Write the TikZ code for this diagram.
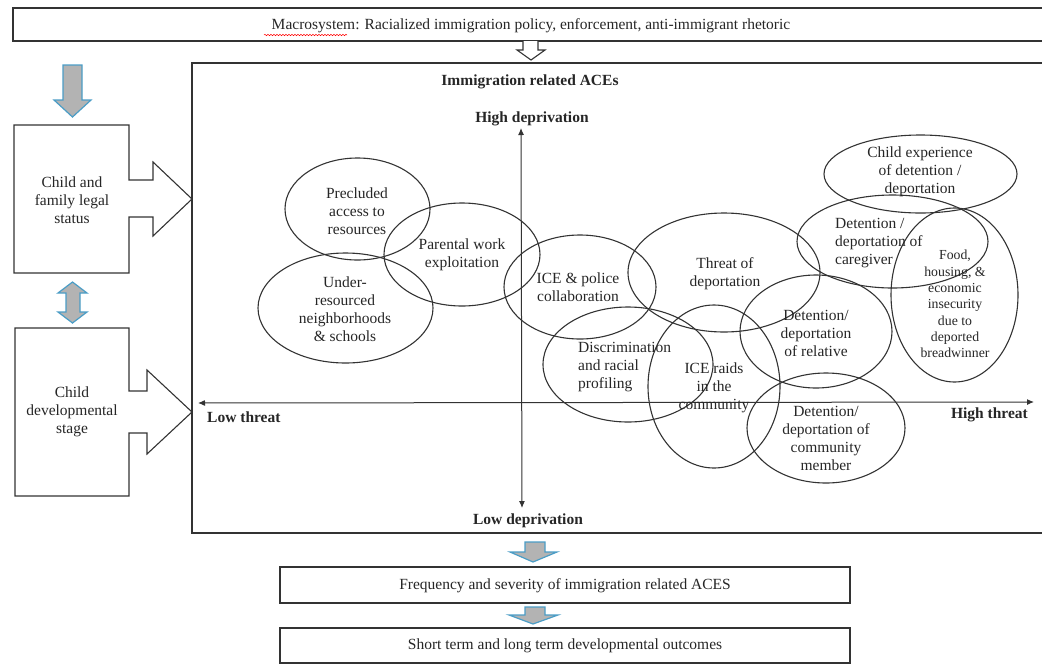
\documentclass[tikz,border=0pt]{standalone}
\usepackage{fontspec}
\setmainfont{Liberation Serif}
\usetikzlibrary{arrows.meta,decorations.pathmorphing}
\definecolor{linec}{HTML}{333333}
\definecolor{textc}{HTML}{262626}
\definecolor{arrowfill}{HTML}{B3B3B3}
\definecolor{arrowline}{HTML}{4B9DC6}
\begin{document}
\begin{tikzpicture}[x=1pt,y=-1pt,
  line/.style={draw=linec,line width=1.1pt},
  ell/.style={draw=linec,line width=1.1pt},
  txt/.style={text=textc,font=\fontsize{15.5}{18}\selectfont,align=center,inner sep=0pt},
  btxt/.style={text=textc,font=\fontsize{15.5}{18}\selectfont\bfseries,align=center,inner sep=0pt},
  ltxt/.style={txt,align=left,anchor=west},
  stxt/.style={text=textc,font=\fontsize{13.8}{16.3}\selectfont,align=center,inner sep=0pt},
  garrow/.style={fill=arrowfill,draw=arrowline,line width=1.2pt,line join=miter},
  axis/.style={draw=linec,line width=1pt,{Latex[length=7pt,width=6pt]}-{Latex[length=7pt,width=6pt]}}]
\useasboundingbox (0,0) rectangle (1042,665);

% top macrosystem box
\draw[line] (1050,8) -- (13,8) -- (13,41) -- (1050,41);
\node[txt] (macro) at (531,26) {Macrosystem: Racialized immigration policy, enforcement, anti-immigrant rhetoric};
\draw[red,line width=0.5pt,decorate,decoration={snake,amplitude=0.7pt,segment length=3pt}] (264,35) -- (347,35);
% hollow arrow into main box
\draw[line,fill=white,line join=miter] (523,41) -- (523,50) -- (517,50) -- (531,60) -- (545,50) -- (538,50) -- (538,41);

% main box
\draw[line] (1050,63) -- (192,63) -- (192,533) -- (1050,533);

% left gray arrow
\draw[garrow] (63,65) -- (82,65) -- (82,100) -- (91,100) -- (72.5,117) -- (54,100) -- (63,100) -- cycle;
% double arrow
\draw[garrow] (72.5,282) -- (87,293) -- (80,293) -- (80,312) -- (87,312) -- (72.5,323) -- (58,312) -- (66,312) -- (66,293) -- (58,293) -- cycle;

% left boxes with arrows
\draw[line,fill=white,line join=miter] (14,125) -- (129,125) -- (129,180) -- (153,180) -- (153,162) -- (192,199) -- (153,236) -- (153,217) -- (129,217) -- (129,273) -- (14,273) -- cycle;
\node[txt] (legal) at (72,200) {Child and\\family legal\\status};
\draw[line,fill=white,line join=miter] (15,328) -- (129,328) -- (129,391) -- (147,391) -- (147,370) -- (192,412) -- (147,454) -- (147,433) -- (129,433) -- (129,496) -- (15,496) -- cycle;
\node[txt] (dev) at (72,412) {Child\\developmental\\stage};

% titles and axes
\node[btxt] (title) at (530,82) {Immigration related ACEs};
\node[btxt] (hd) at (532,119) {High deprivation};
\node[btxt] (ld) at (528,521) {Low deprivation};
\node[btxt,anchor=west] (lt) at (207,417) {Low threat};
\node[btxt,anchor=east] (ht) at (1028,415) {High threat};
\coordinate (vtop) at (521,128);
\coordinate (vbot) at (522,508);
\coordinate (hleft) at (198,403);
\coordinate (hright) at (1034,402);
\draw[axis] (vtop) -- (vbot);
\draw[axis] (hleft) -- (hright);

% ellipses
\draw[ell] (357.5,209) ellipse [x radius=72.5, y radius=51];
\draw[ell] (345.5,308) ellipse [x radius=87.5, y radius=55];
\draw[ell] (462,254.5) ellipse [x radius=78, y radius=51.5];
\draw[ell] (580,287) ellipse [x radius=76, y radius=52];
\draw[ell] (628,364.5) ellipse [x radius=85, y radius=57.5];
\draw[ell] (724,272.5) ellipse [x radius=96, y radius=59.5];
\draw[ell] (714,386.5) ellipse [x radius=66, y radius=81.5];
\draw[ell] (816,331.5) ellipse [x radius=76, y radius=56.5];
\draw[ell] (826,428) ellipse [x radius=79, y radius=55];
\draw[ell] (920.5,174) ellipse [x radius=96.5, y radius=39];
\draw[ell] (892.5,241.5) ellipse [x radius=95.5, y radius=46.5];
\draw[ell] (954.5,295) ellipse [x radius=63.5, y radius=87];

% ellipse texts
\node[txt] (t1) at (357,211) {Precluded\\access to\\resources};
\node[txt] (t2) at (345,309) {Under-\\resourced\\neighborhoods\\\& schools};
\node[txt] (t3) at (462,255) {Parental work\\exploitation};
\node[txt] (t4) at (578,287) {ICE \& police\\collaboration};
\node[ltxt] (t5) at (578,367) {Discrimination\\and racial\\profiling};
\node[txt] (t6) at (725,274) {Threat of\\deportation};
\node[txt] (t7) at (714,388) {ICE raids\\in the\\community};
\node[txt] (t8) at (816,333) {Detention/\\deportation\\of relative};
\node[txt] (t9) at (826,438) {Detention/\\deportation of\\community\\member};
\node[txt] (t10) at (920,172) {Child experience\\of detention /\\deportation};
\node[ltxt] (t11) at (835,243) {Detention /\\deportation of\\caregiver};
\node[stxt] (t12) at (955,304) {Food,\\housing, \&\\economic\\insecurity\\due to\\deported\\breadwinner};

% bottom arrows and boxes
\draw[garrow] (525,542) -- (545,542) -- (545,552) -- (557,552) -- (533,562) -- (510,552) -- (525,552) -- cycle;
\draw[line] (280,567) rectangle (850,603);
\node[txt] (freq) at (565,586) {Frequency and severity of immigration related ACES};
\draw[garrow] (525,607) -- (545,607) -- (545,615) -- (558,615) -- (533,624) -- (509,615) -- (525,615) -- cycle;
\draw[line] (280,628) rectangle (850,663);
\node[txt] (out) at (565,646) {Short term and long term developmental outcomes};
\end{tikzpicture}
\end{document}
